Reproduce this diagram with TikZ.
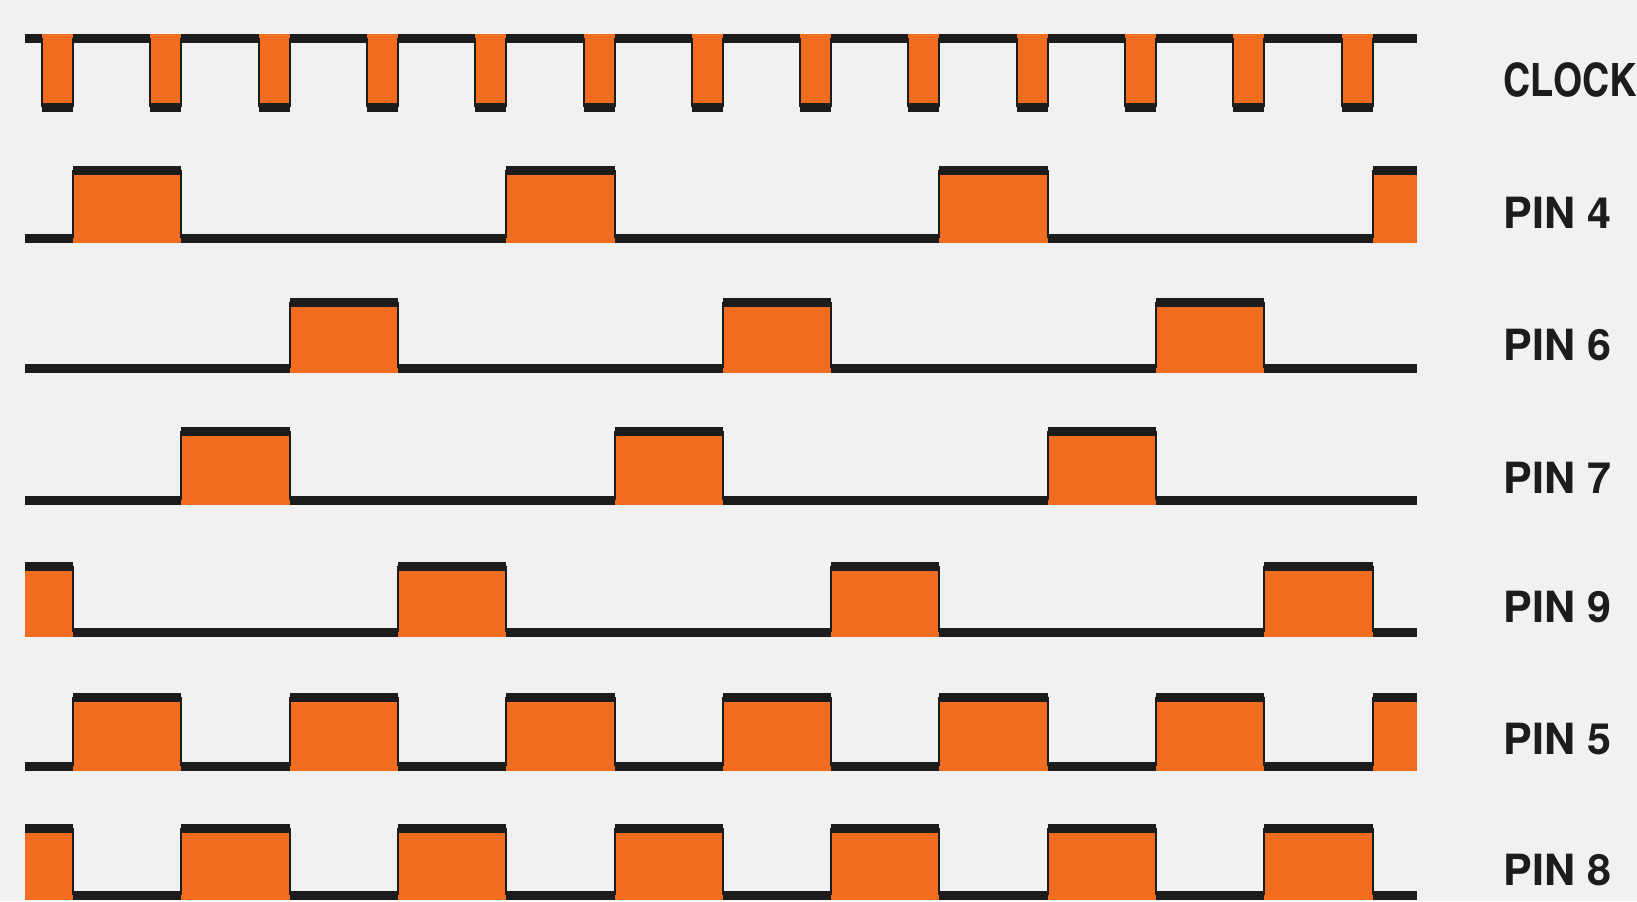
\documentclass[tikz,border=0pt]{standalone}
\usepackage{fontspec}
\setmainfont{TeX Gyre Heros Cn}
\newfontfamily\pinfont{TeX Gyre Heros}
\usepackage{tikz}
\usetikzlibrary{positioning}
\definecolor{WaveOrange}{HTML}{F26D1F}
\definecolor{WaveInk}{HTML}{1C1C1C}
\definecolor{WaveBg}{HTML}{F1F1F1}
\newcommand{\pulse}[4]{%
  \fill[WaveOrange] ({#1},{min(#3,#4)-4.5}) rectangle ({#2},{max(#3,#4)+4.5});
  \draw[level] ({#1},#3) -- ({#2},#3);
  \pgfmathparse{int(#1>30)}\ifnum\pgfmathresult=1 \draw[edge] ({#1},#3) -- ({#1},#4);\fi
  \pgfmathparse{int(#2<1410)}\ifnum\pgfmathresult=1 \draw[edge] ({#2},#3) -- ({#2},#4);\fi
}
\newcommand{\edgex}[1]{(#1<0 ? 25 : (#1>12 ? 1417 : 73+108.3*#1))}

\begin{document}
\begin{tikzpicture}[x=0.5pt,y=-0.5pt,
  level/.style={WaveInk,line width=4.5pt},
  edge/.style={WaveInk,line width=1pt},
  sig/.style={anchor=west,inner sep=0pt,text=WaveInk,font=\bfseries\fontsize{23}{26}\selectfont},
  pin/.style={sig,font=\pinfont\bfseries\fontsize{21.5}{24}\selectfont},
]
\fill[WaveBg] (0,0) rectangle (1637,901);
% clock
\draw[level] (25,38) -- (1417,38);
\foreach \k in {0,...,12} {\pulse{73+108.3*\k-31}{73+108.3*\k}{107}{38}}
\node[sig] (clk) at (1503,80) {CLOCK};
% pin 4
\draw[level] (25,238) -- (1417,238);
\foreach \a/\b in {0/1,4/5,8/9,12/13} {\pulse{\edgex{\a}}{\edgex{\b}}{170}{238}}
\node[pin] (p4) at (1503,213) {PIN 4};
% pin 6
\draw[level] (25,368) -- (1417,368);
\foreach \a/\b in {2/3,6/7,10/11} {\pulse{\edgex{\a}}{\edgex{\b}}{302}{368}}
\node[pin] (p6) at (1503,345) {PIN 6};
% pin 7
\draw[level] (25,500) -- (1417,500);
\foreach \a/\b in {1/2,5/6,9/10} {\pulse{\edgex{\a}}{\edgex{\b}}{431}{500}}
\node[pin] (p7) at (1503,478) {PIN 7};
% pin 9
\draw[level] (25,632) -- (1417,632);
\foreach \a/\b in {-1/0,3/4,7/8,11/12} {\pulse{\edgex{\a}}{\edgex{\b}}{566}{632}}
\node[pin] (p9) at (1503,607) {PIN 9};
% pin 5
\draw[level] (25,766) -- (1417,766);
\foreach \a/\b in {0/1,2/3,4/5,6/7,8/9,10/11,12/13} {\pulse{\edgex{\a}}{\edgex{\b}}{697}{766}}
\node[pin] (p5) at (1503,739) {PIN 5};
% pin 8
\draw[level] (25,895) -- (1417,895);
\foreach \a/\b in {-1/0,1/2,3/4,5/6,7/8,9/10,11/12} {\pulse{\edgex{\a}}{\edgex{\b}}{828}{895}}
\node[pin] (p8) at (1503,870) {PIN 8};
\end{tikzpicture}
\end{document}
